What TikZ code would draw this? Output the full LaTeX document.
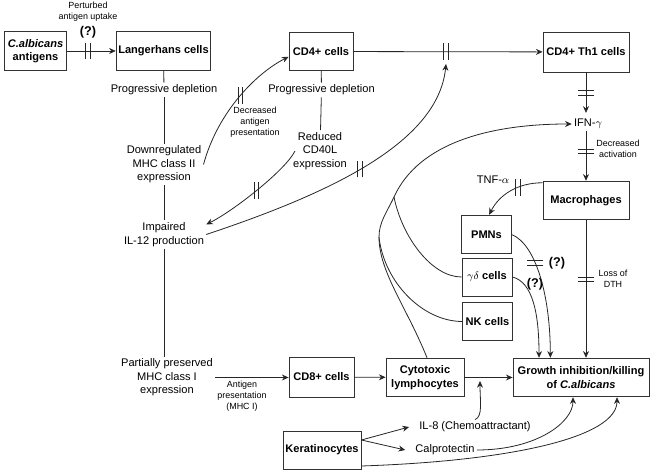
\documentclass[tikz,border=0pt]{standalone}
\usepackage{fontspec}
\setmainfont{Liberation Sans}
\usetikzlibrary{arrows.meta,positioning}

\newcommand{\brkbars}{\rule{0.55pt}{12.5pt}\hspace{3pt}\rule{0.55pt}{12.5pt}}

\begin{document}
\begin{tikzpicture}[
    x=0.75pt, y=-0.75pt,
    box/.style={rectangle, draw=black!80, line width=0.6pt, align=center, font=\fontsize{8.3}{10}\selectfont\bfseries, inner sep=1pt, minimum height=29pt},
    txt/.style={align=center, font=\fontsize{8.3}{10.1}\selectfont, inner sep=1.5pt},
    lbl/.style={align=center, font=\fontsize{6.7}{8.2}\selectfont, inner sep=1pt},
    qm/.style={font=\fontsize{9.5}{10}\selectfont\bfseries, inner sep=1pt},
    arr/.style={-{Stealth[length=5pt,width=4.5pt]}, line width=0.6pt, draw=black!85},
    ln/.style={line width=0.6pt, draw=black!85},
    brk/.style={inner sep=0pt, text=black!85},
    brkh/.style={brk, rotate=90}
]
\useasboundingbox (0,0) rectangle (653,473);
\node[box, minimum width=47pt] (antig) at (35.5,51) {\textit{C.albicans}\\antigens};
\node[box, minimum width=71pt] (lang) at (163.5,51) {Langerhans cells};
\node[box, minimum width=48pt] (cdfour) at (321,51.5) {CD4+ cells};
\node[box, minimum width=64.5pt, minimum height=30pt] (thone) at (586,52) {CD4+ Th1 cells};
\node[box, minimum width=64.5pt] (macro) at (586,200.5) {Macrophages};
\node[box, minimum width=37pt] (pmn) at (486.5,234.5) {PMNs};
\node[box, minimum width=37.5pt, minimum height=28.5pt] (gd) at (487,277) {$\gamma\delta$ cells};
\node[box, minimum width=37pt] (nk) at (487.5,321.5) {NK cells};
\node[box, minimum width=102pt] (growth) at (581,377.5) {Growth inhibition/killing\\of \textit{C.albicans}};
\node[box, minimum width=48.8pt, minimum height=30pt] (cdeight) at (321.5,377) {CD8+ cells};
\node[box, minimum width=58.5pt] (cyto) at (425,377.5) {Cytotoxic\\lymphocytes};
\node[box, minimum width=58.5pt, minimum height=28.5pt] (kera) at (322,450) {Keratinocytes};
\node[txt] (depla) at (164,90) {Progressive depletion};
\node[txt] (deplb) at (321.5,90) {Progressive depletion};
\node[txt] (mhctwo) at (164,164.5) {Downregulated\\MHC class II\\expression};
\node[txt] (cdforty) at (320,151) {Reduced\\CD40L\\expression};
\node[txt] (ilt) at (164,234.5) {Impaired\\IL-12 production};
\node[txt] (mhcone) at (167,377.5) {Partially preserved\\MHC class I\\expression};
\node[txt] (ifn) at (588,124) {IFN-$\gamma$};
\node[txt] (tnf) at (493,180) {TNF-$\alpha$};
\node[txt] (ileight) at (475,427) {IL-8 (Chemoattractant)};
\node[txt] (calp) at (445,450) {Calprotectin};
\node[qm] (qa) at (88,32) {(?)};
\node[lbl, above=1pt of qa] (upt) {Perturbed\\antigen uptake};
\node[qm] (qb) at (557,263) {(?)};
\node[qm] (qc) at (535,284.5) {(?)};
\node[lbl] (dap) at (255,122) {Decreased\\antigen\\presentation};
\node[lbl] (dact) at (618,148.5) {Decreased\\activation};
\node[lbl] (dth) at (613,279) {Loss of\\DTH};
\node[lbl] (apr) at (242,396) {Antigen\\presentation\\(MHC I)};
\coordinate (thcut) at (446,64);
\coordinate (ja) at (379,237);
\coordinate (jb) at (394,197);
\coordinate (ileightend) at (480,381);
\draw[arr] (antig) -- (lang) node[brk, pos=.43] {\brkbars};
\draw[ln] (lang) -- (depla);
\draw[ln] (depla) -- (mhctwo);
\draw[ln] (mhctwo) -- (ilt);
\draw[ln] (ilt.south) -- (ilt.south |- mhcone.north);
\draw[arr] (cdfour) -- (thone) node[brk, pos=.49] {\brkbars};
\draw[ln] (cdfour) -- (deplb);
\draw[ln] (deplb) -- (cdforty);
\draw[arr] (mhctwo.east) .. controls +(15,-55) and +(-30,15) .. ([yshift=-4pt]cdfour.west) node[brk, pos=.5] {\brkbars};
\draw[arr] ([xshift=3pt]cdforty.west) .. controls +(-10,20) and +(25,-12) .. ([yshift=-3pt]ilt.north east) node[brk, pos=.5] {\brkbars};
\draw[arr] (ilt.east) .. controls +(120,-40) and +(-8,80) .. (thcut) node[brk, pos=.47] {\brkbars};
\draw[arr] ([xshift=1.5pt]cyto.north) .. controls +(-20,-50) and +(0,35) .. (ja) .. controls +(0,-15) and +(-7,15) .. (jb) .. controls +(25,-55) and +(-80,0) .. (ifn.west);
\draw[ln] (jb) .. controls +(8,40) and +(-30,0) .. (gd.west);
\draw[ln] (ja) .. controls +(5,45) and +(-40,0) .. (nk.west);
\draw[arr] (thone.south) -- ([yshift=3pt]thone.south |- ifn.north) node[brkh, pos=.5] {\brkbars};
\draw[arr] (ifn.south -| macro.north) -- (macro.north) node[brkh, pos=.41] {\brkbars};
\draw[arr] ([yshift=-1.5pt]macro.north west) .. controls +(-25,0) and +(10,-20) .. ([xshift=2pt]pmn.north) node[brk, pos=.37] {\brkbars};
\draw[arr] (pmn.east) .. controls +(25,10) and +(0,-60) .. ([xshift=-23pt]growth.north) node[brkh, pos=.38] {\brkbars};
\draw[arr] (gd.east) .. controls +(20,5) and +(0,-45) .. ([xshift=-31.5pt]growth.north);
\draw[arr] (macro) -- (macro |- growth.north) node[brkh, pos=.43] {\brkbars};
\draw[arr] (mhcone.east) -- (mhcone.east -| cdeight.west);
\draw[arr] (cdeight) -- (cyto);
\draw[arr] (cyto) -- (growth);
\draw[arr] (ileight.north) .. controls +(8,-3) and +(0,20) .. (ileightend);
\draw[arr] ([yshift=7.5pt]kera.east) -- ([xshift=-6pt]ileight.west);
\draw[arr] ([yshift=7.5pt]kera.east) -- ([xshift=-6pt]calp.west);
\draw[arr] (calp.east) .. controls +(60,0) and +(0,25) .. ([xshift=-6pt]growth.south);
\draw[arr] ([yshift=-12pt]kera.east) .. controls +(150,-5) and +(0,40) .. ([xshift=27pt]growth.south);
\end{tikzpicture}
\end{document}
